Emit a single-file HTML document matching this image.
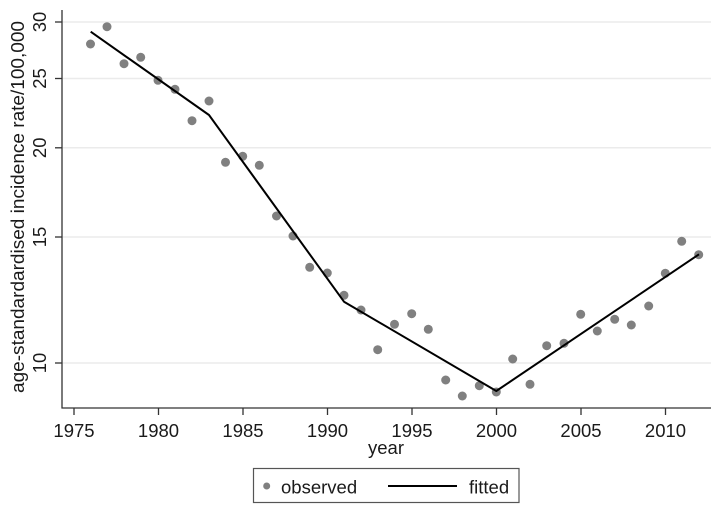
<!DOCTYPE html>
<html><head><meta charset="utf-8"><style>
html,body{margin:0;padding:0;background:#fff;}
svg{display:block;}
text{font-family:"Liberation Sans",Arial,sans-serif;fill:#1a1a1a;font-size:18.5px;}
</style></head><body>
<svg width="720" height="515" viewBox="0 0 720 515" xmlns="http://www.w3.org/2000/svg">
<rect width="720" height="515" fill="#fff"/>
<!-- gridlines -->
<g stroke="#ebebeb" stroke-width="1.5">
<line x1="62" y1="22" x2="711" y2="22"/>
<line x1="62" y1="78.5" x2="711" y2="78.5"/>
<line x1="62" y1="147.8" x2="711" y2="147.8"/>
<line x1="62" y1="237" x2="711" y2="237"/>
<line x1="62" y1="363" x2="711" y2="363"/>
</g>
<!-- axes -->
<g stroke="#333" stroke-width="1.3" fill="none">
<line x1="62" y1="10" x2="62" y2="408.5"/>
<line x1="61.5" y1="408" x2="711" y2="408"/>
<line x1="55" y1="22" x2="62" y2="22"/>
<line x1="55" y1="78.5" x2="62" y2="78.5"/>
<line x1="55" y1="147.8" x2="62" y2="147.8"/>
<line x1="55" y1="237" x2="62" y2="237"/>
<line x1="55" y1="363" x2="62" y2="363"/>
<line x1="74" y1="408" x2="74" y2="415"/>
<line x1="158.5" y1="408" x2="158.5" y2="415"/>
<line x1="243" y1="408" x2="243" y2="415"/>
<line x1="327.5" y1="408" x2="327.5" y2="415"/>
<line x1="412" y1="408" x2="412" y2="415"/>
<line x1="496.5" y1="408" x2="496.5" y2="415"/>
<line x1="581" y1="408" x2="581" y2="415"/>
<line x1="665.5" y1="408" x2="665.5" y2="415"/>
</g>
<!-- y tick labels -->
<g text-anchor="middle">
<text transform="translate(46,22) rotate(-90)">30</text>
<text transform="translate(46,78.5) rotate(-90)">25</text>
<text transform="translate(46,147.8) rotate(-90)">20</text>
<text transform="translate(46,237) rotate(-90)">15</text>
<text transform="translate(46,363) rotate(-90)">10</text>
<text transform="translate(24,207) rotate(-90)" textLength="372" lengthAdjust="spacingAndGlyphs">age-standardardised incidence rate/100,000</text>
</g>
<!-- x tick labels -->
<g text-anchor="middle">
<text x="74" y="437">1975</text>
<text x="158.5" y="437">1980</text>
<text x="243" y="437">1985</text>
<text x="327.5" y="437">1990</text>
<text x="412" y="437">1995</text>
<text x="496.5" y="437">2000</text>
<text x="581" y="437">2005</text>
<text x="665.5" y="437">2010</text>
<text x="386" y="454">year</text>
</g>
<!-- points -->
<g fill="#808080">
<circle cx="90.5" cy="44" r="4.5"/>
<circle cx="107" cy="26.7" r="4.5"/>
<circle cx="124" cy="63.7" r="4.5"/>
<circle cx="140.7" cy="57.3" r="4.5"/>
<circle cx="158" cy="80.3" r="4.5"/>
<circle cx="175" cy="89.3" r="4.5"/>
<circle cx="192" cy="120.7" r="4.5"/>
<circle cx="209" cy="101" r="4.5"/>
<circle cx="225.5" cy="162.3" r="4.5"/>
<circle cx="242.7" cy="156.3" r="4.5"/>
<circle cx="259.3" cy="165.3" r="4.5"/>
<circle cx="276.5" cy="216" r="4.5"/>
<circle cx="293" cy="236" r="4.5"/>
<circle cx="309.7" cy="267.3" r="4.5"/>
<circle cx="327.3" cy="273" r="4.5"/>
<circle cx="344" cy="295.3" r="4.5"/>
<circle cx="361" cy="310" r="4.5"/>
<circle cx="377.7" cy="349.7" r="4.5"/>
<circle cx="394.5" cy="324.3" r="4.5"/>
<circle cx="411.7" cy="313.7" r="4.5"/>
<circle cx="428.3" cy="329.3" r="4.5"/>
<circle cx="445.7" cy="380" r="4.5"/>
<circle cx="462.3" cy="396" r="4.5"/>
<circle cx="479.3" cy="385.7" r="4.5"/>
<circle cx="496.3" cy="392" r="4.5"/>
<circle cx="512.7" cy="359" r="4.5"/>
<circle cx="530" cy="384.3" r="4.5"/>
<circle cx="546.7" cy="345.7" r="4.5"/>
<circle cx="564" cy="343.3" r="4.5"/>
<circle cx="580.7" cy="314.3" r="4.5"/>
<circle cx="597.3" cy="331" r="4.5"/>
<circle cx="614.7" cy="319.3" r="4.5"/>
<circle cx="631.3" cy="325" r="4.5"/>
<circle cx="648.7" cy="306" r="4.5"/>
<circle cx="665.3" cy="273.3" r="4.5"/>
<circle cx="681.7" cy="241.3" r="4.5"/>
<circle cx="698.7" cy="254.7" r="4.5"/>
</g>
<!-- fitted -->
<polyline points="90.7,31.7 209,115 344,301.7 496.3,391 699,254.3" fill="none" stroke="#000" stroke-width="2" stroke-linejoin="round"/>
<!-- legend -->
<rect x="253.5" y="468.5" width="265.5" height="34" fill="#fff" stroke="#555" stroke-width="1.2"/>
<circle cx="266.7" cy="486" r="3.5" fill="#808080"/>
<text x="281" y="493.3">observed</text>
<line x1="388" y1="486" x2="457" y2="486" stroke="#000" stroke-width="2"/>
<text x="469" y="493.3">fitted</text>
</svg>
</body></html>
